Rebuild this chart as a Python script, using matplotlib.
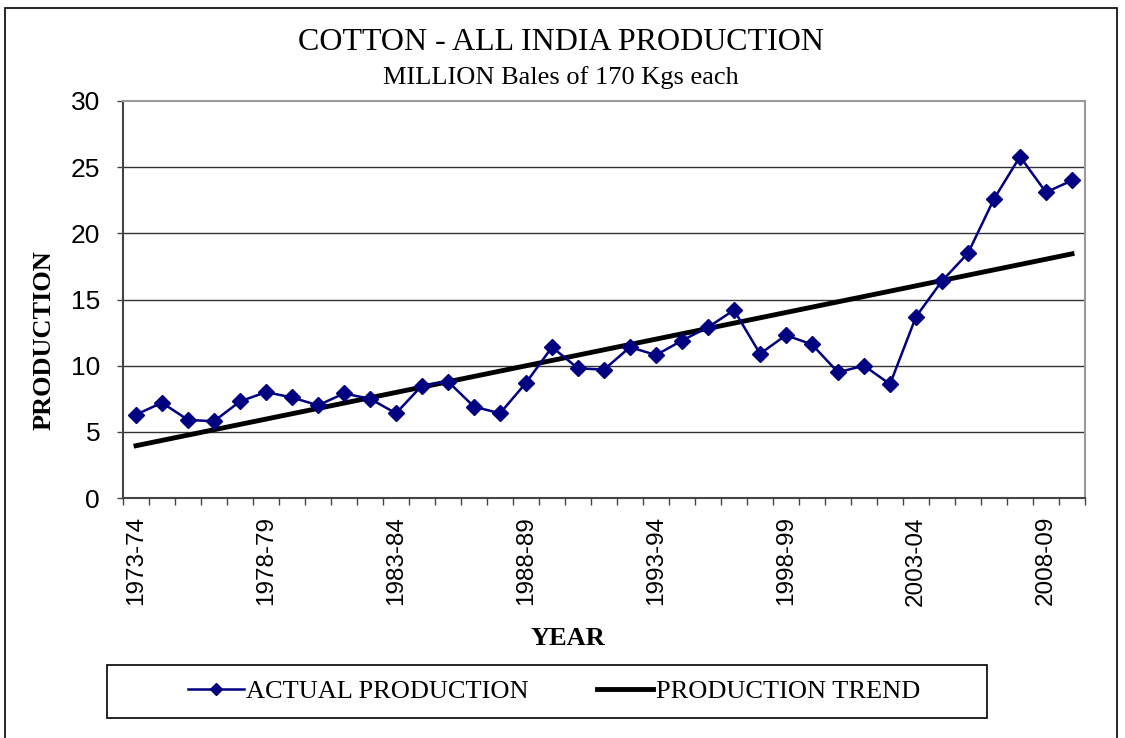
import matplotlib.pyplot as plt
import numpy as np

# seasons 1973-74 .. 2009-10
years = ["%d-%02d" % (y, (y + 1) % 100) for y in range(1973, 2010)]
production = [6.3, 7.2, 5.9, 5.8, 7.3, 8.0, 7.6, 7.0, 7.9, 7.5,
              6.4, 8.5, 8.8, 6.9, 6.4, 8.7, 11.4, 9.8, 9.7, 11.4,
              10.8, 11.9, 12.9, 14.2, 10.9, 12.3, 11.6, 9.5, 10.0, 8.6,
              13.7, 16.4, 18.5, 22.6, 25.8, 23.1, 24.0]
trend_start, trend_end = 3.95, 18.45   # linear trend

x = np.arange(len(years))
trend = np.linspace(trend_start, trend_end, len(years))

serif = "Liberation Serif"
sans = "Liberation Sans"
W, H = 1125, 738

fig = plt.figure(figsize=(W / 100, H / 100), dpi=100)
# outer chart border
fig.patches.append(plt.Rectangle((5 / W, -0.01), (1117 - 5) / W, 1 - 8 / H + 0.01,
                                 transform=fig.transFigure, fill=False,
                                 edgecolor="black", linewidth=1.2))
# legend box
fig.patches.append(plt.Rectangle((107 / W, 1 - 718 / H), 880 / W, 53 / H,
                                 transform=fig.transFigure, fill=False,
                                 edgecolor="black", linewidth=1.2))

ax = fig.add_axes([123 / W, 1 - 498 / H, (1085 - 123) / W, (498 - 101) / H])

for v in [5, 10, 15, 20, 25]:
    ax.axhline(v, color="#333333", linewidth=1.0, zorder=0)

ax.plot(x, production, color="#000080", linewidth=1.8, marker="D",
        markersize=8.5, label="ACTUAL PRODUCTION", zorder=3)
ax.plot(x, trend, color="black", linewidth=3.5, label="PRODUCTION TREND", zorder=2)

ax.set_xlim(-0.5, len(years) - 0.5)
ax.set_ylim(0, 30)
ax.set_yticks(range(0, 31, 5))
ax.set_xticks(x[::5])
ax.set_xticklabels(years[::5], rotation=90, fontsize=17.5, family=sans)
ax.set_xticks(np.arange(-0.5, len(years)), minor=True)
ax.tick_params(axis="x", which="major", length=0, pad=13)
ax.tick_params(axis="x", which="minor", length=5, width=1, color="#444444", direction="out")
ax.tick_params(axis="y", length=4.5, width=1, color="#444444", labelsize=19, pad=12)
for lbl in ax.get_yticklabels():
    lbl.set_family(sans)

ax.spines["left"].set_color("#444444")
ax.spines["bottom"].set_color("#444444")
ax.spines["top"].set_color("#999999")
ax.spines["right"].set_color("#999999")
for s in ax.spines.values():
    s.set_linewidth(1.5)

ax.set_ylabel("PRODUCTION", family=serif, fontsize=19, fontweight="bold")
ax.yaxis.set_label_coords((56 - 123) / (1085 - 123), (498 - 340) / (498 - 101))
ax.set_xlabel("YEAR", family=serif, fontsize=19, fontweight="bold")
ax.xaxis.set_label_coords((568 - 123) / (1085 - 123), -(627 - 498) / (498 - 101))

fig.text(0.5 - 2 / W, 1 - 43 / H, "COTTON - ALL INDIA PRODUCTION", family=serif,
         fontsize=23, ha="center", va="center")
fig.text(0.5 - 2 / W, 1 - 78 / H, "MILLION Bales of 170 Kgs each", family=serif,
         fontsize=19, ha="center", va="center")

leg = fig.legend(loc="center", bbox_to_anchor=(554 / W, 1 - 691 / H), ncol=2,
                 prop={"family": serif, "size": 19}, frameon=False,
                 handlelength=2.1, handletextpad=0.1,
                 columnspacing=2.6, markerscale=0.7)

fig.savefig("out.png", dpi=100)
